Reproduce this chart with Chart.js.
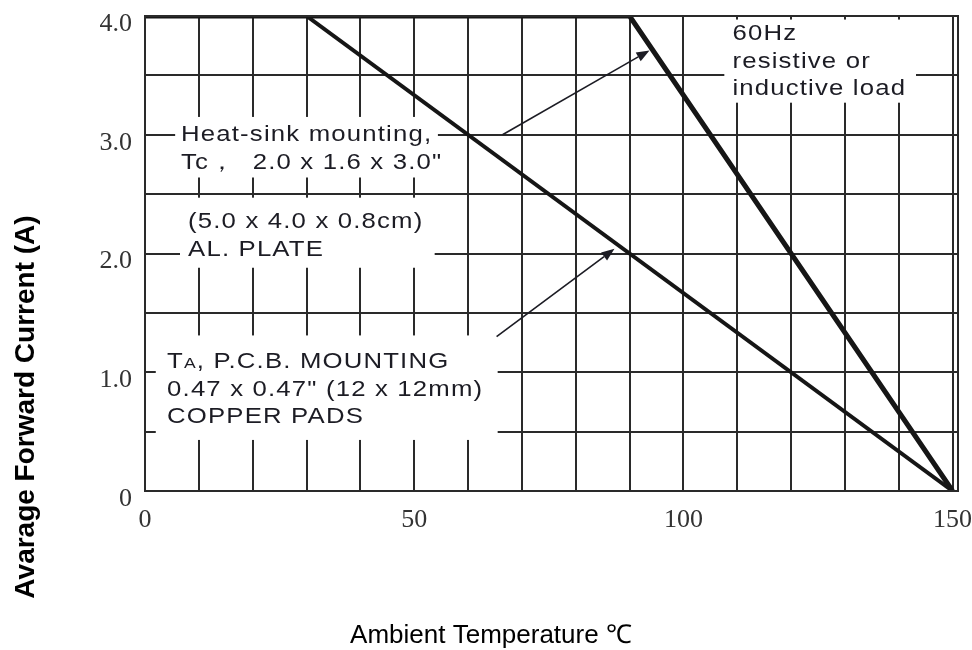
<!DOCTYPE html>
<html>
<head>
<meta charset="utf-8">
<script src="https://cdn.jsdelivr.net/npm/chart.js@4.4.0/dist/chart.umd.min.js"></script>
<style>
  html, body { margin: 0; padding: 0; background: #fff; }
  #wrap { width: 972px; height: 650px; }
</style>
</head>
<body>
<div id="wrap"><canvas id="chart" width="972" height="650"></canvas></div>
<script>
// derating curves
const heatSinkTemp = [0, 90, 150];
const heatSinkCurrent = [4.0, 4.0, 0];
const pcbTemp = [30, 150];
const pcbCurrent = [4.0, 0];

// grid + tick labels
const xGrid = [0, 10, 20, 30, 40, 50, 60, 70, 80, 90, 100, 110, 120, 130, 140, 150];
const xTickValues = [0, 50, 100, 150];
const yTickValues = [0, 1, 2, 3, 4];
const yTickText = ['0', '1.0', '2.0', '3.0', '4.0'];

const ink = '#1c1c24';

// annotation boxes: white patch [x0, x1, yTop, yBottom] in data units, text anchor [x, y]
const notes = [
  { box: [5.6, 54.4, 3.15, 2.64], at: [6.7, 3.015],
    lines: [['Heat-sink mounting,'], ['Tc，  2.0 x 1.6 x 3.0"']] },
  { box: [6.5, 53.8, 2.47, 1.88], at: [8.0, 2.28],
    lines: [['(5.0 x 4.0 x 0.8cm)'], ['AL. PLATE']] },
  { box: [2.0, 65.5, 1.31, 0.43], at: [4.1, 1.103],
    lines: [['T', {small: 'A'}, ', P.C.B. MOUNTING'], ['0.47 x 0.47" (12 x 12mm)'], ['COPPER PADS']] },
  { box: [107.6, 143.2, 3.97, 3.27], at: [109.1, 3.865],
    lines: [['60Hz'], ['resistive or'], ['inductive load']] }
];
const arrows = [
  { from: [66.4, 3.0], to: [93.7, 3.71] },
  { from: [65.3, 1.30], to: [87.2, 2.04] }
];

const notesPlugin = {
  id: 'notes',
  beforeDatasetsDraw(chart) {
    const { ctx, scales: { x, y } } = chart;
    ctx.save();
    ctx.fillStyle = '#fff';
    notes.forEach(n => {
      const x0 = x.getPixelForValue(n.box[0]), x1 = x.getPixelForValue(n.box[1]);
      const y0 = y.getPixelForValue(n.box[2]), y1 = y.getPixelForValue(n.box[3]);
      ctx.fillRect(x0, y0, x1 - x0, y1 - y0);
    });
    ctx.restore();
  },
  afterDatasetsDraw(chart) {
    const { ctx, scales: { x, y }, chartArea: a } = chart;
    ctx.save();
    // frame
    ctx.strokeStyle = '#2a2a2a';
    ctx.lineWidth = 2;
    ctx.strokeRect(a.left, a.top, a.right - a.left, a.bottom - a.top);

    // texts (the scan is stretched sideways a bit)
    const stretch = 1.17;
    ctx.fillStyle = ink;
    ctx.textBaseline = 'alphabetic';
    ctx.textAlign = 'left';
    if ('letterSpacing' in ctx) ctx.letterSpacing = '1px';
    notes.forEach(n => {
      const px = x.getPixelForValue(n.at[0]);
      const py = y.getPixelForValue(n.at[1]);
      n.lines.forEach((parts, i) => {
        let cx = 0;
        const base = py + i * 27.7 + 8;
        ctx.save();
        ctx.translate(px, base);
        ctx.scale(stretch, 1);
        parts.forEach(p => {
          const small = typeof p === 'object';
          const t = small ? p.small : p;
          ctx.font = (small ? '15px' : '22px') + ' "Liberation Sans", Arial, sans-serif';
          ctx.fillText(t, cx, 0);
          cx += ctx.measureText(t).width;
        });
        ctx.restore();
      });
    });
    if ('letterSpacing' in ctx) ctx.letterSpacing = '0px';

    // arrows
    ctx.strokeStyle = ink;
    ctx.fillStyle = ink;
    ctx.lineWidth = 1.6;
    arrows.forEach(ar => {
      const sx = x.getPixelForValue(ar.from[0]), sy = y.getPixelForValue(ar.from[1]);
      const ex = x.getPixelForValue(ar.to[0]), ey = y.getPixelForValue(ar.to[1]);
      const ang = Math.atan2(ey - sy, ex - sx);
      const hl = 13, hw = 5;
      const bx = ex - hl * Math.cos(ang), by = ey - hl * Math.sin(ang);
      ctx.beginPath();
      ctx.moveTo(sx, sy);
      ctx.lineTo(bx, by);
      ctx.stroke();
      ctx.beginPath();
      ctx.moveTo(ex, ey);
      ctx.lineTo(bx + hw * Math.sin(ang), by - hw * Math.cos(ang));
      ctx.lineTo(bx - hw * Math.sin(ang), by + hw * Math.cos(ang));
      ctx.closePath();
      ctx.fill();
    });

    // axis titles
    ctx.fillStyle = '#000';
    ctx.textAlign = 'center';
    ctx.textBaseline = 'middle';
    ctx.font = '26px "Liberation Sans", Arial, sans-serif';
    ctx.fillText('Ambient Temperature ℃', 491, 636);
    ctx.translate(26, 407);
    ctx.rotate(-Math.PI / 2);
    ctx.font = 'bold 28px "Liberation Sans", Arial, sans-serif';
    ctx.fillText('Avarage Forward Current (A)', 0, 0);
    ctx.restore();
  }
};

const gridStyle = { color: '#2a2a2a', lineWidth: 2, drawTicks: false };
const tickFont = { family: '"Liberation Serif", "Times New Roman", serif', size: 26 };

new Chart(document.getElementById('chart'), {
  type: 'scatter',
  data: {
    datasets: [
      {
        label: 'Heat-sink',
        data: heatSinkTemp.map((t, i) => ({ x: t, y: heatSinkCurrent[i] })),
        showLine: true,
        borderColor: '#161616',
        borderWidth: 5,
        pointRadius: 0,
        borderJoinStyle: 'miter'
      },
      {
        label: 'P.C.B.',
        data: pcbTemp.map((t, i) => ({ x: t, y: pcbCurrent[i] })),
        showLine: true,
        borderColor: '#161616',
        borderWidth: 4,
        pointRadius: 0
      }
    ]
  },
  options: {
    responsive: false,
    animation: false,
    devicePixelRatio: 1,
    layout: { padding: { top: 16, right: 14, bottom: 0, left: 0 } },
    plugins: { legend: { display: false }, tooltip: { enabled: false } },
    scales: {
      x: {
        type: 'linear',
        min: 0,
        max: 151,
        afterBuildTicks: s => { s.ticks = xGrid.map(v => ({ value: v })); },
        afterFit: s => { s.height = 159; s.paddingLeft = 0; s.paddingRight = 0; },
        grid: gridStyle,
        border: { display: false },
        ticks: {
          font: tickFont,
          color: '#333',
          padding: 14,
          maxRotation: 0,
          autoSkip: false,
          callback: v => xTickValues.includes(v) ? String(v) : ''
        }
      },
      y: {
        type: 'linear',
        min: 0,
        max: 4,
        afterFit: s => { s.width = 145; s.paddingTop = 0; s.paddingBottom = 0; },
        grid: gridStyle,
        border: { display: false },
        ticks: {
          stepSize: 0.5,
          font: tickFont,
          color: '#333',
          padding: 13,
          labelOffset: 8,
          autoSkip: false,
          callback: v => {
            const i = yTickValues.indexOf(v);
            return i < 0 ? '' : yTickText[i];
          }
        }
      }
    }
  },
  plugins: [notesPlugin]
});
</script>
</body>
</html>
